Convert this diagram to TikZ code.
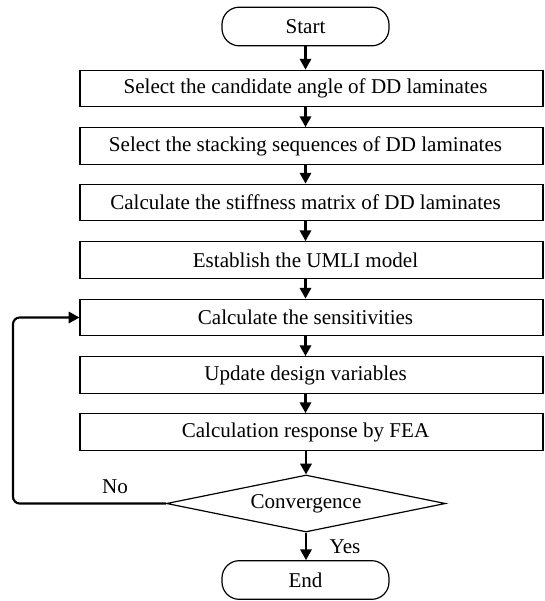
\documentclass[tikz,border=0pt]{standalone}
\usepackage{fontspec}
\setmainfont{Liberation Serif}
\usetikzlibrary{shapes.geometric,arrows.meta}
\begin{document}
\begin{tikzpicture}[x=0.75pt,y=-0.75pt,
  font=\fontsize{15.8}{18}\selectfont,
  stepbox/.style={draw,line width=0.9pt,rectangle,minimum width=347.25pt,minimum height=27.5pt,inner sep=0pt},
  term/.style={draw,line width=0.9pt,rectangle,rounded corners=13pt,minimum width=125.25pt,minimum height=29pt,inner sep=0pt},
  decide/.style={draw,line width=0.9pt,diamond,shape aspect=4.9,minimum width=209.25pt,minimum height=42.75pt,inner sep=0pt},
  arr/.style={line width=1.6pt,-{Triangle[length=8pt,width=8.5pt]}},
  lbl/.style={inner sep=0pt}]
\useasboundingbox (0,0) rectangle (544,601);
\node[term] (st) at (305.5,26.5) {Start};
\node[stepbox] (b1) at (311.5,88.5) {\hspace*{-9pt}Select the candidate angle of DD laminates};
\node[stepbox] (b2) at (311.5,146) {\hspace*{-9pt}Select the stacking sequences of DD laminates};
\node[stepbox] (b3) at (311.5,202.5) {\hspace*{-9pt}Calculate the stiffness matrix of DD laminates};
\node[stepbox] (b4) at (311.5,260) {\hspace*{-9pt}Establish the UMLI model};
\node[stepbox] (b5) at (311.5,317.5) {\hspace*{-9pt}Calculate the sensitivities};
\node[stepbox] (b6) at (311.5,375) {\hspace*{-9pt}Update design variables};
\node[stepbox] (b7) at (311.5,432) {\hspace*{-9pt}Calculation response by FEA};
\node[decide] (d) at (306,503.5) {Convergence};
\node[term] (en) at (305.5,580) {End};
\coordinate (lp) at (13,503.5);
\node[lbl] (no) at (115,487) {No};
\node[lbl] (yes) at (345,547) {Yes};
\draw[arr] (st.south) -- (b1.north -| st.south);
\draw[arr] (b1.south -| st.south) -- (b2.north -| st.south);
\draw[arr] (b2.south -| st.south) -- (b3.north -| st.south);
\draw[arr] (b3.south -| st.south) -- (b4.north -| st.south);
\draw[arr] (b4.south -| st.south) -- (b5.north -| st.south);
\draw[arr] (b5.south -| st.south) -- (b6.north -| st.south);
\draw[arr] (b6.south -| st.south) -- (b7.north -| st.south);
\draw[arr] (b7.south -| d.north) -- (d.north);
\draw[arr] (d.south) -- (en.north -| d.south);
\draw[arr,rounded corners=5pt] (d.west) -- (lp) |- (b5.west);
\end{tikzpicture}
\end{document}
